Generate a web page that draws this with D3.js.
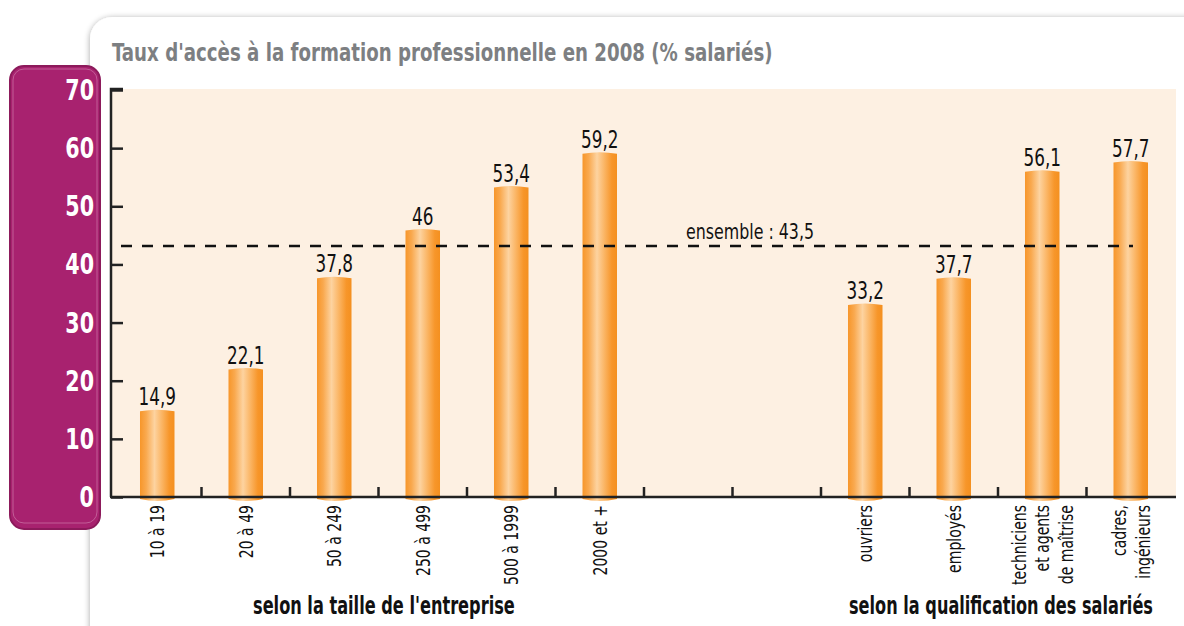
<!DOCTYPE html>
<html>
<head>
<meta charset="utf-8">
<script src="https://cdn.jsdelivr.net/npm/d3@7"></script>
<style>
  body { margin: 0; background: #fff; }
  svg text { font-family: "DejaVu Sans Condensed", "Liberation Sans Narrow", sans-serif; }
</style>
</head>
<body>
<div id="container"></div>
<script>
const width = 1184;
const height = 626;

// slots: 6 firm sizes, 2 empty slots, 4 qualifications
const categories = ["10 à 19", "20 à 49", "50 à 249", "250 à 499", "500 à 1999", "2000 et +",
                    "gap1", "gap2",
                    "ouvriers", "employés", "techniciens|et agents|de maîtrise", "cadres,|ingénieurs"];
const values = [14.9, 22.1, 37.8, 46, 53.4, 59.2, null, null, 33.2, 37.7, 56.1, 57.7];
const valueLabels = ["14,9", "22,1", "37,8", "46", "53,4", "59,2", "", "", "33,2", "37,7", "56,1", "57,7"];
const yTicks = [0, 10, 20, 30, 40, 50, 60, 70];
const average = 43.5;
const averageLabel = "ensemble : 43,5";
const groupLabels = ["selon la taille de l'entreprise", "selon la qualification des salariés"];
const title = "Taux d'accès à la formation professionnelle en 2008 (% salariés)";

const svg = d3.select("div#container").append("svg")
    .attr("width", width)
    .attr("height", height);

const defs = svg.append("defs");

// narrow text: squeeze horizontally, the reference uses a condensed face
function narrowText(parent, tx, ty, k, rot) {
    return parent.append("text")
        .attr("transform", "translate(" + tx + "," + ty + ")" + (rot ? " rotate(" + rot + ")" : "") + " scale(" + k + ",1)");
}
// squeeze a text so that it is w pixels wide
function fitText(parent, tx, ty, w, str) {
    const t = parent.append("text").text(str);
    return t;
}
function squeeze(t, tx, ty, w) {
    const k = w / t.node().getComputedTextLength();
    t.attr("transform", "translate(" + tx + "," + ty + ") scale(" + k + ",1)");
}

// card shadow
const shadow = defs.append("filter").attr("id", "shadow")
    .attr("x", "-5%").attr("y", "-5%").attr("width", "110%").attr("height", "110%");
shadow.append("feGaussianBlur").attr("in", "SourceAlpha").attr("stdDeviation", 3);
shadow.append("feOffset").attr("dx", 0).attr("dy", 1).attr("result", "blur");
shadow.append("feComponentTransfer").append("feFuncA").attr("type", "linear").attr("slope", 0.35);
const merge = shadow.append("feMerge");
merge.append("feMergeNode");
merge.append("feMergeNode").attr("in", "SourceGraphic");

// bar gradient (cylinder look)
const grad = defs.append("linearGradient").attr("id", "barGrad")
    .attr("x1", "0%").attr("x2", "100%").attr("y1", "0%").attr("y2", "0%");
[["0%", "#f7962a"], ["18%", "#f9a94f"], ["42%", "#fdd3a0"], ["62%", "#fbb768"], ["85%", "#f7962a"], ["100%", "#f49020"]]
    .forEach(s => grad.append("stop").attr("offset", s[0]).attr("stop-color", s[1]));

// white card
svg.append("rect")
    .attr("x", 90).attr("y", 17)
    .attr("width", 1130).attr("height", 640)
    .attr("rx", 22)
    .attr("fill", "#fff")
    .attr("filter", "url(#shadow)");

// title
const titleText = svg.append("text")
    .attr("fill", "#7d7f82")
    .attr("font-size", 25)
    .attr("font-weight", "bold")
    .text(title);
squeeze(titleText, 112, 61, 661);

// magenta panel
svg.append("rect")
    .attr("x", 10).attr("y", 66)
    .attr("width", 90).attr("height", 463)
    .attr("rx", 14)
    .attr("fill", "#a8226f")
    .attr("stroke", "#8c1a5b")
    .attr("stroke-width", 2);
svg.append("rect")
    .attr("x", 13).attr("y", 69)
    .attr("width", 84).attr("height", 454)
    .attr("rx", 11)
    .attr("fill", "none")
    .attr("stroke", "#c25d97")
    .attr("stroke-width", 1);

const plotLeft = 111, plotRight = 1176, plotTop = 89, plotBottom = 497;

const x = d3.scaleBand()
    .domain(categories)
    .range([113, 1175])
    .paddingInner(0.61)
    .paddingOuter(0.305);

const y = d3.scaleLinear()
    .domain([0, 70])
    .range([plotBottom, 90]);

// plot background
svg.append("rect")
    .attr("x", plotLeft).attr("y", plotTop)
    .attr("width", plotRight - plotLeft).attr("height", plotBottom - plotTop)
    .attr("fill", "#fdf0e2");

// bars
const bars = svg.append("g");
categories.forEach(function(c, i) {
    if (values[i] == null) return;
    const bx = x(c), bw = x.bandwidth(), top = y(values[i]);
    bars.append("path")
        .attr("d", "M" + bx + "," + (top + 1)
            + "Q" + (bx + bw / 2) + "," + (top - 2) + " " + (bx + bw) + "," + (top + 1)
            + "L" + (bx + bw) + "," + (y(0) + 2)
            + "Q" + (bx + bw / 2) + "," + (y(0) + 6) + " " + bx + "," + (y(0) + 2) + "Z")
        .attr("fill", "url(#barGrad)");
    narrowText(bars, bx + bw / 2, top - 5, 0.78)
        .attr("text-anchor", "middle")
        .attr("font-size", 24)
        .attr("fill", "#111")
        .text(valueLabels[i]);
});

// average dashed line
svg.append("line")
    .attr("x1", 121).attr("x2", 1133)
    .attr("y1", y(average) + 2).attr("y2", y(average) + 2)
    .attr("stroke", "#111")
    .attr("stroke-width", 2.5)
    .attr("stroke-dasharray", "11,10");
narrowText(svg, 750, y(average) - 5, 0.8)
    .attr("text-anchor", "middle")
    .attr("font-size", 22)
    .attr("fill", "#111")
    .text(averageLabel);

// y axis (ticks inside)
const yaxis = d3.axisRight(y).tickValues(yTicks).tickSize(12).tickFormat("");
const yg = svg.append("g")
    .attr("transform", "translate(" + plotLeft + ",0)")
    .call(yaxis);
yg.select(".domain").attr("stroke", "#222").attr("stroke-width", 2.5)
    .attr("d", "M12," + plotTop + "H0V" + plotBottom);
yg.selectAll(".tick line").attr("stroke", "#222").attr("stroke-width", 2.5);

// y labels in magenta panel
const ylab = svg.append("g");
yTicks.forEach(function(d) {
    narrowText(ylab, 94, y(d) + 10, 0.82)
        .attr("text-anchor", "end")
        .attr("font-size", 28)
        .attr("font-weight", "bold")
        .attr("fill", "#fff")
        .text(d);
});

// x axis: baseline + ticks between slots
const boundaries = categories.slice(1).map(c => x(c) - x.step() * x.paddingInner() / 2);
svg.append("line")
    .attr("x1", plotLeft - 1).attr("x2", plotRight)
    .attr("y1", plotBottom).attr("y2", plotBottom)
    .attr("stroke", "#222").attr("stroke-width", 2.5);
svg.append("g").selectAll("line")
    .data(boundaries)
    .enter().append("line")
    .attr("x1", d => d).attr("x2", d => d)
    .attr("y1", plotBottom).attr("y2", plotBottom - 10)
    .attr("stroke", "#222").attr("stroke-width", 2.5);

// category labels, rotated
const clab = svg.append("g");
categories.forEach(function(c, i) {
    if (values[i] == null) return;
    const lines = c.split("|");
    const cx = x(c) + x.bandwidth() / 2;
    const lh = 23.5;
    const t = narrowText(clab, cx, 505, 0.78, -90)
        .attr("text-anchor", "end")
        .attr("font-size", 20)
        .attr("fill", "#111");
    lines.forEach(function(l, j) {
        t.append("tspan")
            .attr("x", 0)
            .attr("y", 7 + (j - (lines.length - 1) / 2) * lh)
            .text(l);
    });
});

// group labels
const g1 = svg.append("text")
    .attr("font-size", 24).attr("font-weight", "bold").attr("fill", "#111")
    .text(groupLabels[0]);
squeeze(g1, 253, 614, 262);
const g2 = svg.append("text")
    .attr("font-size", 24).attr("font-weight", "bold").attr("fill", "#111")
    .text(groupLabels[1]);
squeeze(g2, 849, 614, 304);
</script>
</body>
</html>
